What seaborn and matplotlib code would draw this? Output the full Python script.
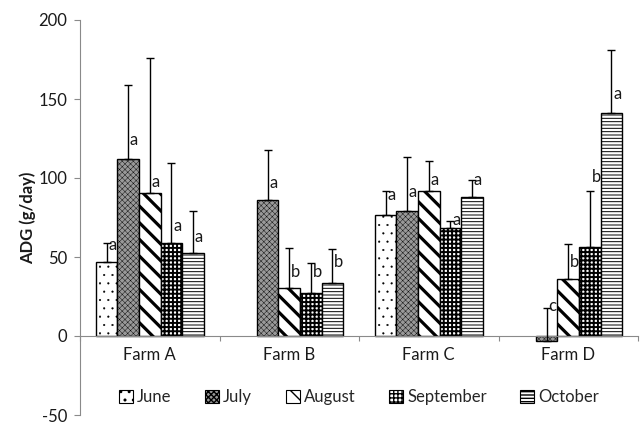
import numpy as np
import pandas as pd
import matplotlib
matplotlib.use("Agg")
import matplotlib.pyplot as plt
from matplotlib.patches import Patch
from matplotlib.container import BarContainer
import seaborn as sns

# ---- data -------------------------------------------------------------
farms = ["Farm A", "Farm B", "Farm C", "Farm D"]
months = ["June", "July", "August", "September", "October"]

# mean ADG (g/day) per month, one value per farm (nan = not measured)
adg_june = [47.0, np.nan, 76.5, np.nan]
adg_july = [112.0, 86.0, 79.0, -3.0]
adg_august = [90.5, 30.5, 91.5, 36.0]
adg_september = [59.0, 27.0, 68.5, 56.5]
adg_october = [52.5, 33.5, 88.0, 141.0]

# standard deviation (upper error bar)
sd_june = [12.0, np.nan, 15.5, np.nan]
sd_july = [47.0, 32.0, 34.0, 21.0]
sd_august = [85.5, 25.5, 19.5, 22.0]
sd_september = [50.5, 19.0, 4.5, 35.5]
sd_october = [26.5, 21.5, 11.0, 40.0]

# significance letters
sig_june = ["a", "", "a", ""]
sig_july = ["a", "a", "a", "c"]
sig_august = ["a", "b", "a", "b"]
sig_september = ["a", "b", "a", "b"]
sig_october = ["a", "b", "a", "a"]

yticks = [-50, 0, 50, 100, 150, 200]

adg = [adg_june, adg_july, adg_august, adg_september, adg_october]
sd = [sd_june, sd_july, sd_august, sd_september, sd_october]
sig = [sig_june, sig_july, sig_august, sig_september, sig_october]

df = pd.DataFrame(
    [(f, m, adg[j][i]) for j, m in enumerate(months) for i, f in enumerate(farms)],
    columns=["farm", "month", "adg"],
)

# ---- styling ----------------------------------------------------------
# letter height above the bar top, in g/day
letter_lift = [
    [10.5, 0, 12.5, 0],
    [12, 11, 12.3, 19],
    [7, 10, 7.5, 11],
    [10.5, 13.5, 5, 44],
    [10, 13.5, 10.7, 12],
]

styles = {
    "June": dict(face="white", hatch="..", hlw=0.3),
    "July": dict(face="#999999", hatch="xxxxxx", hlw=0.3),
    "August": dict(face="white", hatch="\\\\", hlw=2.3),
    "September": dict(face="white", hatch="++++", hlw=1.4),
    "October": dict(face="white", hatch="-----", hlw=0.7),
}

sns.set_style("white")
plt.rcParams["font.family"] = ["Lato", "DejaVu Sans"]
plt.rcParams["hatch.linewidth"] = 1.0
FS = 12
txt = "#1a1a1a"
axis_gray = "#8a8a8a"

fig = plt.figure(figsize=(6.44, 4.26), dpi=100)
ax = fig.add_axes([80 / 644, 11 / 426, 558 / 644, 395 / 426])

group_width = 0.775
sns.barplot(
    data=df, x="farm", y="adg", hue="month", order=farms, hue_order=months,
    errorbar=None, width=group_width, gap=0, edgecolor="black", linewidth=1.0,
    palette=["white"] * 5, legend=False, ax=ax, zorder=2,
)

bw = group_width / len(months)
bar_containers = [c for c in ax.containers if isinstance(c, BarContainer)]
for cont in bar_containers:
    for bar in cont.patches:
        xc = bar.get_x() + bar.get_width() / 2
        i = int(round(xc))
        j = int(round((xc - i + group_width / 2 - bw / 2) / bw))
        j = max(0, min(len(months) - 1, j))
        val = adg[j][i]
        if np.isnan(val):
            bar.set_visible(False)
            continue
        st = styles[months[j]]
        bar.set_facecolor(st["face"])
        bar.set_hatch(st["hatch"])
        if hasattr(bar, "set_hatch_linewidth"):
            bar.set_hatch_linewidth(st["hlw"])
        ax.errorbar(xc, val, yerr=[[0], [sd[j][i]]], fmt="none", ecolor="black",
                    elinewidth=1.0, capsize=2.6, capthick=1.0, zorder=3)
        if sig[j][i]:
            ax.text(xc + 0.012, max(val, 0) + letter_lift[j][i], sig[j][i],
                    ha="left", va="center", fontsize=FS, color=txt, zorder=4)

# ---- axes -------------------------------------------------------------
ax.set_xlim(-0.5, len(farms) - 0.5)
ax.set_ylim(-50, 200)
ax.set_yticks(yticks)
ax.set_yticklabels([str(t) for t in yticks], fontsize=FS, color=txt)
ax.set_xticks(np.arange(-0.5, len(farms), 1.0))
ax.set_xticklabels([])
ax.set_xlabel("")
ax.set_ylabel("ADG (g/day)", fontsize=FS, fontweight="bold", labelpad=2, color=txt)

for s in ("top", "right"):
    ax.spines[s].set_visible(False)
ax.spines["left"].set_color(axis_gray)
ax.spines["bottom"].set_color(axis_gray)
ax.spines["bottom"].set_position(("data", 0))
ax.tick_params(axis="y", direction="out", length=4, width=0.8, color=axis_gray, pad=5, left=True)
ax.tick_params(axis="x", direction="out", length=3.5, width=0.8, color=axis_gray, bottom=True)

for i, f in enumerate(farms):
    ax.text(i, -12, f, ha="center", va="center", fontsize=FS, color=txt)

handles = []
for m in months:
    st = styles[m]
    h = Patch(facecolor=st["face"], edgecolor="black", hatch=st["hatch"], linewidth=0.8)
    if hasattr(h, "set_hatch_linewidth"):
        h.set_hatch_linewidth(min(st["hlw"], 1.2))
    handles.append(h)
ax.legend(handles, months, ncol=5, loc="center", bbox_to_anchor=(0.5, 0.045),
          frameon=False, fontsize=FS, handlelength=0.85, handleheight=0.85,
          handletextpad=0.25, columnspacing=2.0, borderaxespad=0)

fig.savefig("out.png", dpi=100)
